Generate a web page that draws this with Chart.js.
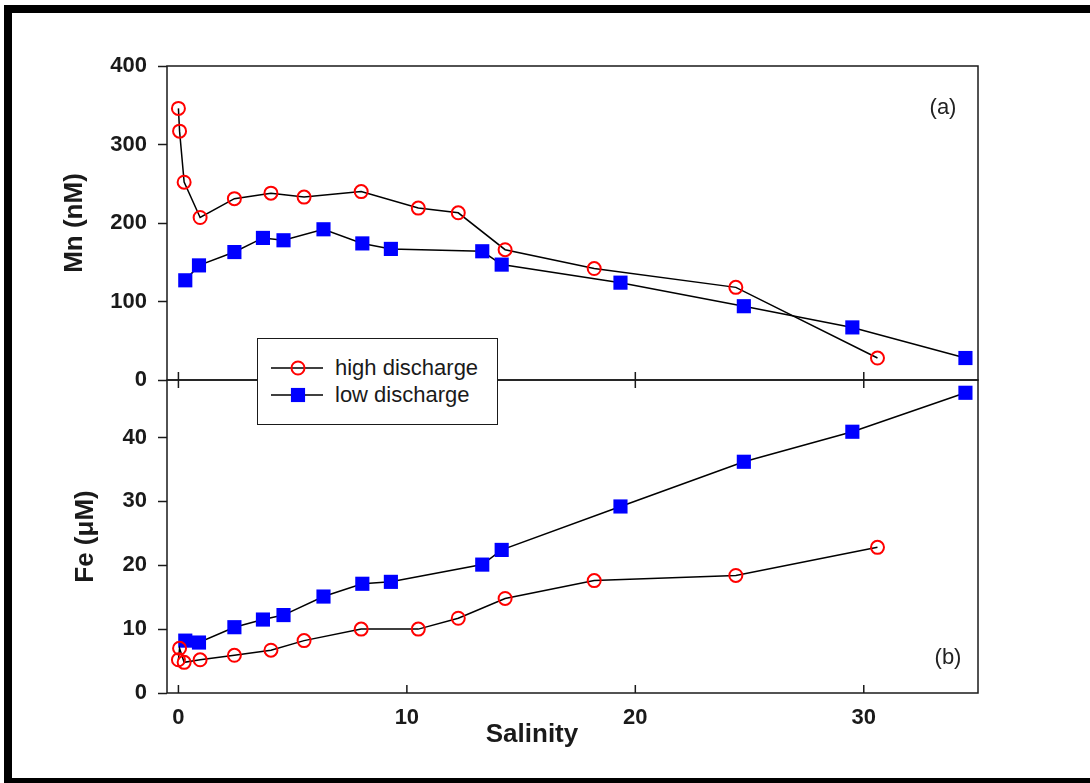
<!DOCTYPE html>
<html>
<head>
<meta charset="utf-8">
<script src="https://cdn.jsdelivr.net/npm/chart.js@4/dist/chart.umd.min.js"></script>
<style>
  html, body { margin: 0; padding: 0; background: #fff; }
  #wrap { position: relative; width: 1090px; height: 783px; overflow: hidden; background: #fff;
          font-family: 'Liberation Sans', Arial, sans-serif; }
  #frame { position: absolute; left: 4px; top: 5px; right: 0; bottom: 0; box-sizing: border-box;
           border-left: 8px solid #000; border-top: 8px solid #000; border-bottom: 5px solid #000; }
  canvas { position: absolute; left: 0; top: 0; }
  #legend { position: absolute; left: 257px; top: 338px; width: 241px; height: 87px; box-sizing: border-box;
            border: 1.5px solid #1a1a1a; background: #fff; }
  .lrow { position: absolute; left: 0; height: 26px; width: 230px; }
  .lrow svg { position: absolute; left: 12px; top: 0; }
  .lrow span { position: absolute; left: 77px; top: 0; line-height: 26px; font-size: 22px; color: #1a1a1a; white-space: nowrap; }
</style>
</head>
<body>
<div id="wrap">
  <div id="frame"></div>
  <canvas id="top" width="1090" height="783"></canvas>
  <canvas id="bottom" width="1090" height="783"></canvas>
  <div id="legend"></div>
</div>
<script>
// ---- data ----
const seriesNames = ['high discharge', 'low discharge'];
const salinityHigh = [0.0, 0.05, 0.25, 0.95, 2.45, 4.05, 5.5, 8.0, 10.5, 12.25, 14.3, 18.2, 24.4, 30.6];
const mnHigh       = [346, 317, 252, 207, 231, 238, 233, 240, 219, 213, 166, 142, 118, 28];
const feHigh       = [5.2, 7.0, 4.8, 5.2, 5.9, 6.7, 8.2, 10.0, 10.0, 11.7, 14.8, 17.6, 18.4, 22.8];
const salinityLow  = [0.3, 0.9, 2.45, 3.7, 4.6, 6.35, 8.05, 9.3, 13.3, 14.15, 19.35, 24.75, 29.5, 34.45];
const mnLow        = [127, 146, 163, 181, 178, 192, 174, 167, 164, 147, 124, 94, 67, 28];
const feLow        = [8.2, 7.9, 10.3, 11.5, 12.2, 15.1, 17.1, 17.4, 20.1, 22.4, 29.2, 36.2, 40.9, 47.0];
const xTicks  = [0, 10, 20, 30];
const mnTicks = [0, 100, 200, 300, 400];
const feTicks = [0, 10, 20, 30, 40];

// ---- styling ----
const FONT = "'Liberation Sans', Arial, sans-serif";
const INK = '#1a1a1a';

function pts(xs, ys) { return xs.map((x, i) => ({ x: x, y: ys[i] })); }

function makeDatasets(yHigh, yLow) {
  return [
    { label: seriesNames[0], data: pts(salinityHigh, yHigh), showLine: true,
      borderColor: '#000', borderWidth: 1.5, tension: 0,
      pointStyle: 'circle', pointRadius: 6.5, pointHoverRadius: 6.5,
      pointBorderColor: '#ff0000', pointBorderWidth: 2, pointBackgroundColor: 'rgba(0,0,0,0)' },
    { label: seriesNames[1], data: pts(salinityLow, yLow), showLine: true,
      borderColor: '#000', borderWidth: 1.5, tension: 0,
      pointStyle: 'rect', pointRadius: 10, pointHoverRadius: 10,
      pointBorderColor: '#0000ff', pointBorderWidth: 0, pointBackgroundColor: '#0000ff' }
  ];
}

function yScale(max, tickVals, title, width) {
  return {
    type: 'linear', min: 0, max: max,
    afterFit: s => { s.width = width; },
    afterBuildTicks: s => { s.ticks = tickVals.map(v => ({ value: v })); },
    ticks: { color: INK, font: { family: FONT, size: 22, weight: 'bold' }, padding: 11 },
    grid: { drawOnChartArea: false, drawTicks: true, tickLength: 9, tickWidth: 1.5, tickColor: INK },
    border: { display: false },
    title: { display: true, text: title, color: INK, font: { family: FONT, size: 26, weight: 'bold' },
             padding: { top: 4, bottom: 4 } }
  };
}

const framePlugin = {
  id: 'frame',
  afterDraw(chart, args, o) {
    const ctx = chart.ctx, a = chart.chartArea, xs = chart.scales.x;
    ctx.save();
    ctx.strokeStyle = INK;
    ctx.lineWidth = 1.5;
    ctx.strokeRect(a.left, a.top, a.right - a.left, a.bottom - a.top);
    ctx.beginPath();
    xTicks.forEach(v => {
      const px = xs.getPixelForValue(v);
      ctx.moveTo(px, a.bottom - o.up);
      ctx.lineTo(px, a.bottom + o.down);
    });
    ctx.stroke();
    ctx.fillStyle = '#222';
    ctx.textAlign = 'center';
    ctx.textBaseline = 'middle';
    ctx.font = '22px ' + FONT;
    ctx.fillText(o.tag, o.tagX, o.tagY);
    if (o.xTitle) {
      ctx.fillStyle = INK;
      ctx.font = 'bold 26px ' + FONT;
      ctx.fillText(o.xTitle, o.xTitleX, o.xTitleY);
    }
    ctx.restore();
  }
};

const common = {
  responsive: false,
  animation: false,
  events: [],
  plugins: { legend: { display: false }, tooltip: { enabled: false } }
};

const topChart = new Chart(document.getElementById('top'), {
  type: 'scatter',
  data: { datasets: makeDatasets(mnHigh, mnLow) },
  options: Object.assign({}, common, {
    layout: { padding: { left: 55, top: 66, right: 112, bottom: 403 } },
    scales: {
      x: { type: 'linear', min: -0.5, max: 35, display: false },
      y: yScale(400, mnTicks, 'Mn (nM)', 112)
    },
    plugins: Object.assign({}, common.plugins, {
      frame: { up: 8, down: 8, tag: '(a)', tagX: 943, tagY: 108 }
    })
  }),
  plugins: [framePlugin]
});

const bottomChart = new Chart(document.getElementById('bottom'), {
  type: 'scatter',
  data: { datasets: makeDatasets(feHigh, feLow) },
  options: Object.assign({}, common, {
    layout: { padding: { left: 66, top: 380, right: 112, bottom: 0 } },
    scales: {
      x: { type: 'linear', min: -0.5, max: 35,
           afterFit: s => { s.height = 90; },
           afterBuildTicks: s => { s.ticks = xTicks.map(v => ({ value: v })); },
           ticks: { color: INK, font: { family: FONT, size: 22, weight: 'bold' }, padding: 12, maxRotation: 0 },
           grid: { drawOnChartArea: false, drawTicks: false },
           border: { display: false } },
      y: yScale(49, feTicks, 'Fe (\u03BCM)', 101)
    },
    plugins: Object.assign({}, common.plugins, {
      frame: { up: 8, down: 0, tag: '(b)', tagX: 948, tagY: 658,
               xTitle: 'Salinity', xTitleX: 532, xTitleY: 735 }
    })
  }),
  plugins: [framePlugin]
});

// ---- legend built from the chart's datasets ----
(function buildLegend() {
  const box = document.getElementById('legend');
  const centers = [29, 56];
  topChart.data.datasets.forEach((ds, i) => {
    const row = document.createElement('div');
    row.className = 'lrow';
    row.style.top = (centers[i] - 13) + 'px';
    let marker;
    if (ds.pointStyle === 'circle') {
      marker = '<circle cx="28" cy="13" r="' + ds.pointRadius + '" fill="none" stroke="' + ds.pointBorderColor +
               '" stroke-width="' + ds.pointBorderWidth + '"/>';
    } else {
      const side = ds.pointRadius * Math.SQRT2;
      marker = '<rect x="' + (28 - side / 2) + '" y="' + (13 - side / 2) + '" width="' + side + '" height="' + side +
               '" fill="' + ds.pointBackgroundColor + '"/>';
    }
    row.innerHTML = '<svg width="60" height="26" viewBox="0 0 60 26"><line x1="1" y1="13" x2="53" y2="13" stroke="#000" stroke-width="1.5"/>' +
                    marker + '</svg><span>' + ds.label + '</span>';
    box.appendChild(row);
  });
})();
</script>
</body>
</html>
